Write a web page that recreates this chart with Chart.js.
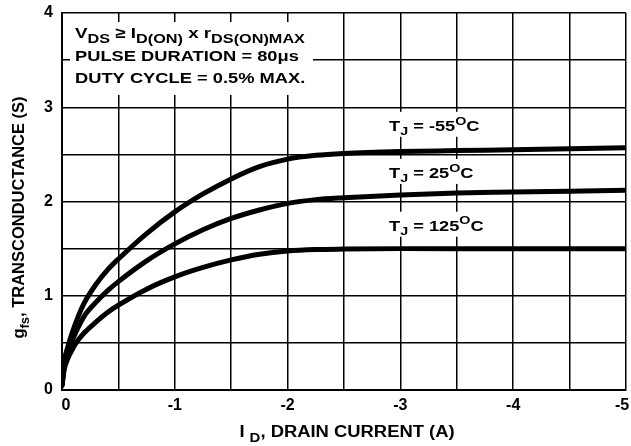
<!DOCTYPE html>
<html>
<head>
<meta charset="utf-8">
<script src="https://cdn.jsdelivr.net/npm/chart.js@4/dist/chart.umd.min.js"></script>
<style>
  html, body { margin: 0; padding: 0; background: #fff; }
  canvas { display: block; }
</style>
</head>
<body>
<canvas id="chart" width="631" height="446"></canvas>
<script>
// drain current (A), shared by all three curves
const drainCurrent = [0, -0.02, -0.05, -0.1, -0.15, -0.2, -0.3, -0.4, -0.5, -0.75, -1, -1.25, -1.5, -1.75, -2, -2.25, -2.5, -3, -3.5, -4, -4.5, -5];
// transconductance (S) per junction temperature
const gfsMinus55 = [0.05, 0.3, 0.45, 0.64, 0.8, 0.93, 1.12, 1.27, 1.39, 1.66, 1.89, 2.08, 2.24, 2.37, 2.45, 2.49, 2.51, 2.53, 2.54, 2.55, 2.56, 2.57];
const gfs25 = [0.05, 0.25, 0.38, 0.55, 0.68, 0.79, 0.93, 1.05, 1.15, 1.37, 1.55, 1.7, 1.82, 1.91, 1.98, 2.02, 2.04, 2.07, 2.09, 2.1, 2.11, 2.12];
const gfs125 = [0.05, 0.22, 0.33, 0.45, 0.54, 0.61, 0.72, 0.82, 0.9, 1.07, 1.2, 1.3, 1.38, 1.44, 1.475, 1.49, 1.495, 1.5, 1.5, 1.5, 1.5, 1.5];

const tempLabels = ["-55", "25", "125"];
// where each T_J label sits, in data units (left edge, baseline)
const labelCurrent = [-2.9, -2.9, -2.9];
const labelGfs = [2.75, 2.25, 1.69];

const FONT = '"Liberation Sans", Arial, Helvetica, sans-serif';

const toPoints = (ys) => drainCurrent.map((x, i) => ({ x: x, y: ys[i] }));

// text with sub/superscripts, drawn on the chart canvas
function drawRich(ctx, parts, x, y, size, sx, align, subScale) {
  const big = "bold " + size + "px " + FONT;
  const small = "bold " + Math.round(size * (subScale || 0.8)) + "px " + FONT;
  let w = 0;
  parts.forEach((p) => {
    ctx.font = p[1] ? small : big;
    w += ctx.measureText(p[0]).width;
  });
  ctx.save();
  ctx.translate(x, y);
  ctx.scale(sx, 1);
  ctx.fillStyle = "#000";
  ctx.textBaseline = "alphabetic";
  ctx.textAlign = "left";
  let cx = align === "center" ? -w / 2 : 0;
  parts.forEach((p) => {
    ctx.font = p[1] ? small : big;
    let dy = 0;
    if (p[1] === "sub") dy = size * 0.3;
    if (p[1] === "sup") dy = -size * 0.45;
    ctx.fillText(p[0], cx, dy);
    cx += ctx.measureText(p[0]).width;
  });
  ctx.restore();
  return w * sx;
}

const notes = {
  id: "notes",
  afterDraw(chart) {
    const ctx = chart.ctx;
    const area = chart.chartArea;
    const xs = chart.scales.x;
    const ys = chart.scales.y;

    // test conditions box
    ctx.fillStyle = "#fff";
    ctx.fillRect(area.left + 8, area.top + 9, 243, 73);
    const tx = area.left + 13;
    drawRich(ctx, [["V", ""], ["DS", "sub"], [" \u2265 ", ""], ["I", ""], ["D(ON)", "sub"], [" x r", ""], ["DS(ON)MAX", "sub"]], tx, area.top + 25, 15, 1.25, "left", 0.88);
    drawRich(ctx, [["PULSE DURATION = 80\u03bcs", ""]], tx, area.top + 48, 15, 1.22);
    drawRich(ctx, [["DUTY CYCLE = 0.5% MAX.", ""]], tx, area.top + 70, 15, 1.22);

    // curve labels
    tempLabels.forEach((t, i) => {
      const lx = xs.getPixelForValue(labelCurrent[i]);
      const ly = ys.getPixelForValue(labelGfs[i]);
      const parts = [["T", ""], ["J", "sub"], [" = " + t, ""], ["O", "sup"], ["C", ""]];
      ctx.save();
      ctx.globalAlpha = 0;
      const w = drawRich(ctx, parts, lx, ly, 14, 1.3);
      ctx.restore();
      ctx.fillStyle = "#fff";
      ctx.fillRect(lx - 2, ly - 19, w + 4, 25);
      drawRich(ctx, parts, lx, ly, 14, 1.3);
    });

    // axis titles
    drawRich(ctx, [["I ", ""], ["D", "sub"], [", DRAIN CURRENT (A)", ""]], (area.left + area.right) / 2 + 3, 437, 16, 1.15, "center");
    ctx.save();
    ctx.translate(24, (area.top + area.bottom) / 2 + 16);
    ctx.rotate(-Math.PI / 2);
    drawRich(ctx, [["g", ""], ["fs", "sub"], [", TRANSCONDUCTANCE (S)", ""]], 0, 0, 16.5, 1, "center");
    ctx.restore();
  }
};

const curve = (ys) => ({
  data: toPoints(ys),
  borderColor: "#000",
  borderWidth: 5,
  pointRadius: 0,
  fill: false,
  cubicInterpolationMode: "monotone",
  borderCapStyle: "round"
});

const tickFont = { family: FONT, size: 16, weight: "bold" };

// x labels: pad the two end labels so they sit inside the canvas like the original
const xLabel = (v) => {
  if (!Number.isInteger(v)) return "";
  if (v === 0) return "\u20020";
  if (v === -5) return "-5\u2002";
  return String(v);
};

new Chart(document.getElementById("chart").getContext("2d"), {
  type: "line",
  data: {
    datasets: [curve(gfsMinus55), curve(gfs25), curve(gfs125)]
  },
  options: {
    responsive: false,
    animation: false,
    layout: { padding: { top: 13, right: 5, bottom: 0, left: 0 } },
    plugins: { legend: { display: false }, tooltip: { enabled: false } },
    scales: {
      x: {
        type: "linear",
        min: -5,
        max: 0,
        reverse: true,
        ticks: {
          stepSize: 0.5,
          autoSkip: false,
          maxRotation: 0,
          padding: 6,
          color: "#000",
          font: tickFont,
          callback: xLabel
        },
        grid: { color: "#000", lineWidth: 1.5, drawTicks: false },
        border: { color: "#000", width: 2 },
        afterFit(s) {
          s.height = 56;
          s.paddingLeft = 0;
          s.paddingRight = 0;
        }
      },
      y: {
        min: 0,
        max: 4,
        ticks: {
          stepSize: 0.5,
          autoSkip: false,
          padding: 9,
          color: "#000",
          font: tickFont,
          callback: (v) => (Number.isInteger(v) ? String(v) : "")
        },
        grid: { color: "#000", lineWidth: 1.5, drawTicks: false },
        border: { color: "#000", width: 2 },
        afterFit(s) {
          s.width = 62;
          s.paddingTop = 0;
          s.paddingBottom = 0;
        }
      }
    }
  },
  plugins: [notes]
});
</script>
</body>
</html>
